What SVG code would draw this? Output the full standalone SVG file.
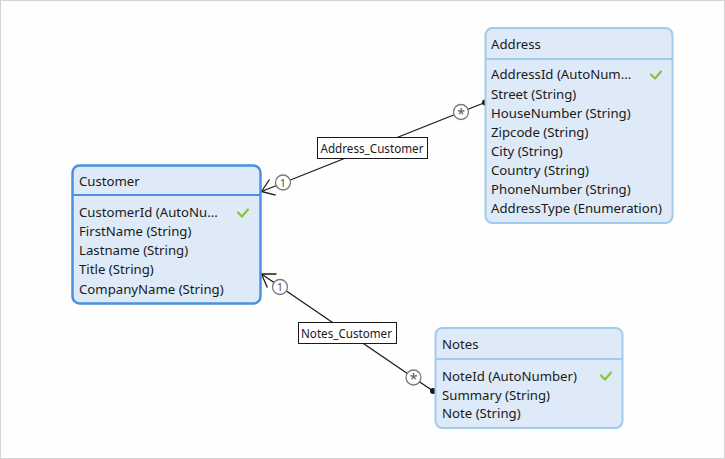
<svg xmlns="http://www.w3.org/2000/svg" width="725" height="459" viewBox="0 0 725 459">
<defs>
<style>
.bg{fill:#fefefe;stroke:#d4d4d4;stroke-width:1}
.box{fill:#deeaf7;stroke:#9fcbee;stroke-width:2}
.sel{fill:#deeaf7;stroke:#4a92e0;stroke-width:2.5}
.sep{stroke:#9fcbee;stroke-width:2}
.sepsel{stroke:#4a92e0;stroke-width:2}
text{font-family:"Noto Sans","Open Sans",sans-serif;font-size:13.2px;fill:#1a1a1a}
.chk{fill:none;stroke:#86c440;stroke-width:2.2;stroke-linecap:round;stroke-linejoin:round}
.ln{stroke:#1a1a1a;stroke-width:1.3;fill:none}
.mc{fill:#ffffff;stroke:#7a7a7a;stroke-width:1.3}
.mt{font-size:11px;fill:#555555;text-anchor:middle}
.ms{font-size:14px;fill:#555555;text-anchor:middle}
.lb{fill:#ffffff;stroke:#1a1a1a;stroke-width:1}
.lt{font-size:12.5px;text-anchor:middle}
</style>
</defs>
<rect class="bg" x="0.5" y="0.5" width="724" height="458"/>
<g id="connectors">
  <g id="Address_Customer">
    <line class="ln" x1="485" y1="102.5" x2="261.5" y2="191.5"/>
    <polyline class="ln" points="269.5,179.5 261.5,191.5 275.7,195.2"/>
    <circle cx="485" cy="102.5" r="3" fill="#1a1a1a"/>
    <circle class="mc" cx="461" cy="112" r="7.5"/>
    <text class="ms" x="461" y="118.5">*</text>
    <circle class="mc" cx="283" cy="182.5" r="7.5"/>
    <text class="mt" x="283" y="186.5">1</text>
    <rect class="lb" x="317.5" y="137.5" width="110" height="21"/>
    <text class="lt" x="372" y="152.5" textLength="103" lengthAdjust="spacingAndGlyphs">Address_Customer</text>
  </g>
  <g id="Notes_Customer">
    <line class="ln" x1="433" y1="391" x2="261.5" y2="274"/>
    <polyline class="ln" points="276.5,274 261.5,274 267.3,287.5"/>
    <circle cx="433" cy="391" r="3" fill="#1a1a1a"/>
    <circle class="mc" cx="413.5" cy="377.5" r="7.5"/>
    <text class="ms" x="413.5" y="384">*</text>
    <circle class="mc" cx="280" cy="287" r="7.5"/>
    <text class="mt" x="280" y="291">1</text>
    <rect class="lb" x="298.5" y="322.5" width="98" height="21"/>
    <text class="lt" x="346.5" y="337.5" textLength="91" lengthAdjust="spacingAndGlyphs">Notes_Customer</text>
  </g>
</g>
<g id="Customer">
  <rect class="sel" x="72.5" y="165.5" width="188" height="138" rx="7"/>
  <line class="sepsel" x1="72.5" y1="195" x2="260.5" y2="195"/>
  <text x="79" y="186">Customer</text>
  <text x="79" y="217">CustomerId (AutoNu...</text>
  <polyline class="chk" points="238,212.5 242,216.5 248,209.5"/>
  <text x="79" y="236">FirstName (String)</text>
  <text x="79" y="255">Lastname (String)</text>
  <text x="79" y="274">Title (String)</text>
  <text x="79" y="294">CompanyName (String)</text>
</g>
<g id="Address">
  <rect class="box" x="485.5" y="28" width="187" height="195" rx="7"/>
  <line class="sep" x1="485.5" y1="59" x2="672.5" y2="59"/>
  <text x="491" y="49">Address</text>
  <text x="491" y="79">AddressId (AutoNum...</text>
  <polyline class="chk" points="651,74.5 655,78.5 661,71.5"/>
  <text x="491" y="99">Street (String)</text>
  <text x="491" y="118">HouseNumber (String)</text>
  <text x="491" y="137">Zipcode (String)</text>
  <text x="491" y="156">City (String)</text>
  <text x="491" y="175">Country (String)</text>
  <text x="491" y="194">PhoneNumber (String)</text>
  <text x="491" y="213">AddressType (Enumeration)</text>
</g>
<g id="Notes">
  <rect class="box" x="435.5" y="328" width="187" height="100" rx="7"/>
  <line class="sep" x1="435.5" y1="359" x2="622.5" y2="359"/>
  <text x="442" y="349">Notes</text>
  <text x="442" y="381">NoteId (AutoNumber)</text>
  <polyline class="chk" points="601,375.5 605,379.5 611,372.5"/>
  <text x="442" y="400">Summary (String)</text>
  <text x="442" y="418">Note (String)</text>
</g>
</svg>
